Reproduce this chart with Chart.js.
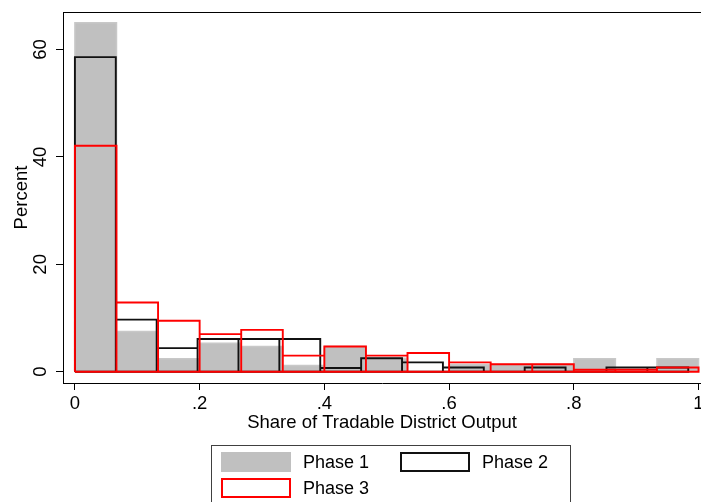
<!DOCTYPE html>
<html>
<head>
<meta charset="utf-8">
<script src="https://cdn.jsdelivr.net/npm/chart.js@4"></script>
<style>
    html, body { margin: 0; padding: 0; background: #fff; overflow: hidden; }
    #wrap { position: relative; width: 701px; height: 502px; }
    #legend {
        position: absolute; left: 211px; top: 445px; width: 349px; height: 70px;
        border: 1px solid #404040; box-sizing: content-box;
        display: grid; grid-template-columns: 70px 85px 70px auto; grid-auto-rows: 20px;
        column-gap: 12px; row-gap: 6px; padding: 6px 0 0 9px;
        font: 18px 'Liberation Sans', Arial, sans-serif; color: #000; align-items: center;
    }
    .sw { width: 70px; height: 20px; box-sizing: border-box; }
</style>
</head>
<body>
<div id="wrap">
    <canvas id="chart" width="701" height="502"></canvas>
    <div id="legend"></div>
</div>
<script>
const $ = (id) => document.getElementById(id);

// tick labels
const xTickValues = [0, 0.2, 0.4, 0.6, 0.8, 1];
const xTickLabels = ["0", ".2", ".4", ".6", ".8", "1"];
const yTickValues = [0, 20, 40, 60];
const yTickLabels = ["0", "20", "40", "60"];

const seriesNames = ["Phase 1", "Phase 2", "Phase 3"];

// histogram bins (share of output), 15 bins per phase
const phase1BinStart = 0, phase1BinWidth = 0.06667;
const phase2BinStart = 0, phase2BinWidth = 0.06557;
const phase3BinStart = 0, phase3BinWidth = 0.06667;

// percent per bin
const phase1Pct = [65.0, 7.5, 2.4, 5.3, 4.7, 1.15, 4.7, 2.5, 0, 1.35, 1.35, 1.35, 2.4, 0, 2.4];
const phase2Pct = [58.6, 9.7, 4.4, 6.1, 6.1, 6.1, 0.7, 2.5, 1.75, 0.8, 0, 0.8, 0, 0.8, 0.8];
const phase3Pct = [42.1, 12.9, 9.5, 7.0, 7.8, 3.0, 4.7, 3.0, 3.5, 1.75, 1.4, 1.4, 0.4, 0.4, 0.8];

const textFont = "'Liberation Sans', Arial, Helvetica, sans-serif";

// turn bins into the outline of the bars
function barPath(start, width, pct, closed) {
    const pts = [];
    pct.forEach((h, i) => {
        const x0 = start + i * width;
        const x1 = x0 + width;
        pts.push({ x: x0, y: 0 }, { x: x0, y: h }, { x: x1, y: h }, { x: x1, y: 0 });
        if (closed) pts.push({ x: x0, y: 0 }, { x: x1, y: 0 });
    });
    return pts;
}

const frameTop = {
    id: "frameTop",
    afterDraw(chart) {
        const { ctx, chartArea } = chart;
        ctx.save();
        ctx.strokeStyle = "#000";
        ctx.lineWidth = 1;
        ctx.beginPath();
        ctx.moveTo(chartArea.left, chartArea.top + 0.5);
        ctx.lineTo(chartArea.right, chartArea.top + 0.5);
        ctx.stroke();
        ctx.restore();
    }
};

const styles = [
    { border: "#c8c8c8", width: 1.5, fill: "#c0c0c0", order: 3 },
    { border: "#111111", width: 1.9, fill: null, order: 2 },
    { border: "#ff0000", width: 1.9, fill: null, order: 1 }
];

function initChart() {
    Chart.defaults.font.family = textFont;
    Chart.defaults.color = "#000";

    const paths = [
        barPath(phase1BinStart, phase1BinWidth, phase1Pct, false),
        barPath(phase2BinStart, phase2BinWidth, phase2Pct, true),
        barPath(phase3BinStart, phase3BinWidth, phase3Pct, true)
    ];

    const datasets = seriesNames.map((name, i) => ({
        label: name,
        data: paths[i],
        showLine: true,
        borderColor: styles[i].border,
        borderWidth: styles[i].width,
        backgroundColor: styles[i].fill || "transparent",
        fill: styles[i].fill ? "origin" : false,
        pointRadius: 0,
        tension: 0,
        order: styles[i].order
    }));

    const axisGrid = {
        display: true, drawOnChartArea: false, drawTicks: true,
        tickLength: 7, tickColor: "#000", tickWidth: 1
    };

    new Chart($("chart").getContext("2d"), {
        type: "scatter",
        data: { datasets },
        options: {
            responsive: false,
            animation: false,
            layout: { padding: { top: 12, right: 0, bottom: 59, left: 0 } },
            plugins: { legend: { display: false }, tooltip: { enabled: false } },
            scales: {
                x: {
                    type: "linear", min: -0.0191, max: 1.004,
                    afterBuildTicks: (s) => { s.ticks = xTickValues.map(v => ({ value: v })); },
                    afterFit: (s) => { s.height = 60; s.paddingLeft = 0; s.paddingRight = 0; },
                    ticks: {
                        callback: (v, i) => xTickLabels[i],
                        autoSkip: false, minRotation: 0, maxRotation: 0,
                        padding: 3, font: { size: 18.5 }
                    },
                    grid: axisGrid,
                    border: { display: true, color: "#000", width: 1 },
                    title: {
                        display: true, text: "Share of Tradable District Output",
                        font: { size: 18.5 }, padding: { top: 0, bottom: 9 }
                    }
                },
                y: {
                    type: "linear", min: -2.1, max: 67,
                    afterBuildTicks: (s) => { s.ticks = yTickValues.map(v => ({ value: v })); },
                    afterFit: (s) => { s.width = 63; s.paddingTop = 0; s.paddingBottom = 0; },
                    ticks: {
                        callback: (v, i) => yTickLabels[i],
                        autoSkip: false, minRotation: 90, maxRotation: 90,
                        crossAlign: "center", padding: 5, font: { size: 18.5 }
                    },
                    grid: axisGrid,
                    border: { display: true, color: "#000", width: 1 },
                    title: {
                        display: true, text: "Percent",
                        font: { size: 18.5 }, padding: { top: 11, bottom: 0 }
                    }
                }
            }
        },
        plugins: [frameTop]
    });
}

function buildLegend() {
    const box = $("legend");
    seriesNames.forEach((name, i) => {
        const sw = document.createElement("div");
        sw.className = "sw";
        if (styles[i].fill) sw.style.background = styles[i].fill;
        else sw.style.border = `2px solid ${styles[i].border}`;
        const label = document.createElement("div");
        label.textContent = name;
        box.appendChild(sw);
        box.appendChild(label);
    });
}

initChart();
buildLegend();
</script>
</body>
</html>
